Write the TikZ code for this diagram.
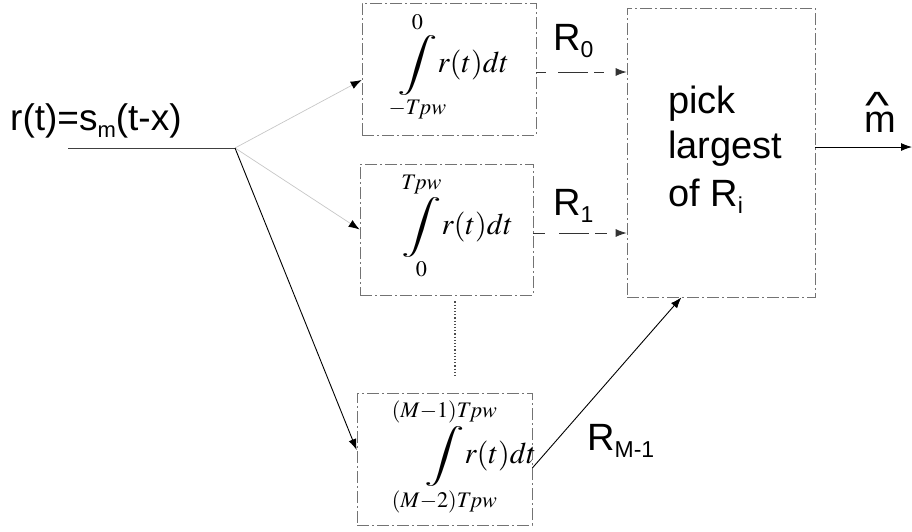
\documentclass[tikz,border=0pt]{standalone}
\usepackage{mathptmx}
\usepackage{fontspec}
\setmainfont{Liberation Serif}
\newfontfamily\lab{Liberation Sans}
\usepackage{graphicx}
\usetikzlibrary{arrows.meta,calc}
\newcommand{\sclap}[1]{\makebox[0pt]{$\scriptstyle #1$}}
\newcommand{\myint}[2]{$\displaystyle\mathop{\scalebox{1.5}[1]{$\displaystyle\int$}}\limits_{\sclap{#1}}^{\sclap{#2}}\! r(t)dt$}
\newcommand{\lsub}[2][23]{\raisebox{-7pt}{\fontsize{#1}{#1}\selectfont #2}}
\tikzset{
  boxline/.style={draw=black!55, line width=0.7pt, dash pattern=on 12pt off 3pt on 2pt off 3pt, inner sep=0pt},
  intbox/.style={boxline, minimum width=174pt, minimum height=132pt},
  inttxt/.style={inner sep=0pt, anchor=west, font=\fontsize{30}{34}\selectfont},
  labtxt/.style={font=\lab\fontsize{38}{42}\selectfont, inner sep=0pt, anchor=base west},
  arr/.style={line width=0.9pt, -{Latex[length=11pt,width=8pt]}},
  faint/.style={draw=black!22, line width=0.7pt, -{Latex[length=11pt,width=8pt,color=black]}}
}
\begin{document}
\begin{tikzpicture}[x=1pt,y=-1pt]
\useasboundingbox (0,0) rectangle (912,531);
% input
\node[labtxt, font=\lab\fontsize{37}{40}\selectfont] (in) at (10,130) {r(t)=s\lsub[22]{m}(t-x)};
\coordinate (inL) at (68,148);
\coordinate (corner) at (235,148);
% integrator boxes
\node[intbox] (box0) at (449,69) {};
\node[intbox, minimum width=173pt, minimum height=131pt] (box1) at (446.5,229.5) {};
\node[intbox, minimum width=175pt] (boxM) at (444.5,459) {};
\node[inttxt] (int0) at (397,67) {\myint{-T\!pw}{0}};
\node[inttxt] (int1) at (401,226) {\myint{0}{T\!pw}};
\node[inttxt] (intM) at (424,457) {\myint{(M-2)T\!pw}{(M-1)T\!pw}};
% decision box
\node[boxline, minimum width=188pt, minimum height=289pt] (pick) at (721,152.5) {};
\node[labtxt] (pick1) at (668,113) {pick};
\node[labtxt] (pick2) at (668,158) {largest};
\node[labtxt] (pick3) at (668,206) {of R\lsub{i}};
% output
\coordinate (out) at (912,147);
\node[labtxt] (mhat) at (864,132) {\rlap{\hspace{1.5pt}\raisebox{14pt}{\scalebox{1.35}[1]{\textasciicircum}}}m};
% helper coordinates
\coordinate (o0) at ([yshift=-3pt]box0.east);
\coordinate (o1) at ([yshift=-3.5pt]box1.east);
% connectors
\draw[black!75, line width=0.8pt] (inL) -- (corner);
\draw[faint] (corner) -- ([yshift=-11pt]box0.west);
\draw[faint] (corner) -- (box1.west);
\draw[arr] (corner) -- ([yshift=9pt]boxM.west);
\draw[arr, dash pattern=on 10pt off 12pt on 30pt off 6pt, draw=black!80] (o0) -- (pick.west |- o0);
\draw[arr, dash pattern=on 12pt off 14pt on 30pt off 6pt, draw=black!80] (o1) -- (pick.west |- o1);
\draw[arr] ([yshift=-9pt]boxM.east) -- ($(pick.south west)!0.29!(pick.south east)$);
\draw[arr] (pick.east |- out) -- (out);
\draw[black!70, line width=1.2pt, dotted, shorten >=16pt, shorten <=6pt] ([xshift=8.5pt]box1.south) -- ([xshift=10.5pt]boxM.north);
% labels
\node[labtxt] (r0) at (553,50) {R\lsub{0}};
\node[labtxt] (r1) at (553,215) {R\lsub{1}};
\node[labtxt] (rm) at (587,450) {R\lsub{M-1}};
\end{tikzpicture}
\end{document}
